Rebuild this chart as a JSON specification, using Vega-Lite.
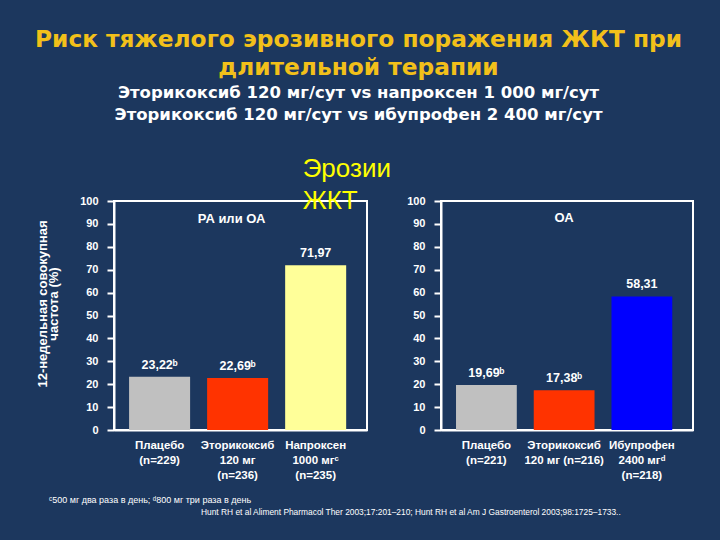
{
  "$schema": "https://vega.github.io/schema/vega-lite/v6.json",
  "background": "#1c375e",
  "padding": {"left": 34, "right": 27, "top": 28, "bottom": 28},
  "title": {
    "text": ["Риск тяжелого эрозивного поражения ЖКТ при", "длительной терапии"],
    "subtitle": ["Эторикоксиб 120 мг/сут vs напроксен 1 000 мг/сут", "Эторикоксиб 120 мг/сут vs ибупрофен 2 400 мг/сут"],
    "anchor": "middle",
    "dx": -6,
    "font": "DejaVu Sans",
    "fontSize": 23.3,
    "fontWeight": "bold",
    "color": "#f2c01a",
    "lineHeight": 27.5,
    "subtitleFont": "DejaVu Sans",
    "subtitleFontSize": 16.5,
    "subtitleFontWeight": "bold",
    "subtitleColor": "white",
    "subtitleLineHeight": 22.5,
    "subtitlePadding": 4.5,
    "offset": 30
  },
  "datasets": {
    "ra": [
      {"group": "Плацебо|(n=229)", "value": 23.22, "label": "23,22ᵇ"},
      {"group": "Эторикоксиб|120 мг|(n=236)", "value": 22.69, "label": "22,69ᵇ"},
      {"group": "Напроксен|1000 мгᶜ|(n=235)", "value": 71.97, "label": "71,97"}
    ],
    "oa": [
      {"group": "Плацебо|(n=221)", "value": 19.69, "label": "19,69ᵇ"},
      {"group": "Эторикоксиб|120 мг (n=216)", "value": 17.38, "label": "17,38ᵇ"},
      {"group": "Ибупрофен|2400 мгᵈ|(n=218)", "value": 58.31, "label": "58,31"}
    ]
  },
  "bounds": "flush",
  "spacing": 74,
  "resolve": {"scale": {"x": "independent", "y": "independent", "color": "independent"}},
  "hconcat": [
    {
      "width": 253,
      "height": 229,
      "layer": [
        {"data": {"name": "ra"},
         "mark": {"type": "bar"},
         "encoding": {
           "x": {"field": "group", "type": "nominal", "sort": null,
                 "scale": {"paddingInner": 0.218, "paddingOuter": 0.23, "align": 0.42},
                 "axis": {"labelExpr": "split(datum.label, '|')", "title": null}},
           "y": {"field": "value", "type": "quantitative",
                 "scale": {"domain": [0, 100], "nice": false},
                 "axis": {"values": [0, 10, 20, 30, 40, 50, 60, 70, 80, 90, 100], "tickCount": 20, "labelOverlap": false,
                          "title": ["12-недельная совокупная", "частота (%)"],
                          "titleX": -68, "titleY": 102.5, "titleAngle": -90, "titleBaseline": "alphabetic", "titleAlign": "center",
                          "titleFontSize": 13, "titleFontWeight": "bold", "titleLineHeight": 11, "titleColor": "white"}},
           "color": {"field": "group", "type": "nominal", "legend": null,
                     "scale": {"domain": ["Плацебо|(n=229)", "Эторикоксиб|120 мг|(n=236)", "Напроксен|1000 мгᶜ|(n=235)"],
                               "range": ["#c0c0c0", "#ff3300", "#ffff99"]}}}},
        {"data": {"name": "ra"},
         "mark": {"type": "text", "dy": -8, "baseline": "alphabetic", "color": "white", "fontWeight": "bold", "fontSize": 12.5},
         "encoding": {"x": {"field": "group", "type": "nominal", "sort": null},
                      "y": {"field": "value", "type": "quantitative", "axis": {"values": [0, 10, 20, 30, 40, 50, 60, 70, 80, 90, 100], "tickCount": 20, "labelOverlap": false}},
                      "text": {"field": "label"}}},
        {"data": {"values": [{}]},
         "mark": {"type": "text", "baseline": "alphabetic", "color": "white", "fontWeight": "bold", "fontSize": 13, "dx": -6},
         "encoding": {"x": {"datum": "Эторикоксиб|120 мг|(n=236)"}, "y": {"datum": 90.4, "axis": {"values": [0, 10, 20, 30, 40, 50, 60, 70, 80, 90, 100], "tickCount": 20, "labelOverlap": false}}, "text": {"value": "РА или ОА"}}},
        {"data": {"values": [{}]},
         "mark": {"type": "text", "baseline": "alphabetic", "align": "left", "color": "#ffff00", "fontSize": 26, "lineHeight": 32, "dx": -13},
         "encoding": {"x": {"datum": "Напроксен|1000 мгᶜ|(n=235)"}, "y": {"datum": 110.6, "axis": {"values": [0, 10, 20, 30, 40, 50, 60, 70, 80, 90, 100], "tickCount": 20, "labelOverlap": false}}, "text": {"value": ["Эрозии", "ЖКТ"]}}},
        {"data": {"values": [{}]},
         "mark": {"type": "text", "baseline": "alphabetic", "align": "left", "color": "white", "fontSize": 9, "dx": -110.6},
         "encoding": {"x": {"datum": "Плацебо|(n=229)"}, "y": {"datum": -32, "axis": {"values": [0, 10, 20, 30, 40, 50, 60, 70, 80, 90, 100], "tickCount": 20, "labelOverlap": false}}, "text": {"value": "ᶜ500 мг два раза в день; ᵈ800 мг три раза в день"}}},
        {"data": {"values": [{}]},
         "mark": {"type": "text", "baseline": "alphabetic", "align": "left", "color": "white", "fontSize": 8.4, "dx": 41.4},
         "encoding": {"x": {"datum": "Плацебо|(n=229)"}, "y": {"datum": -37.1, "axis": {"values": [0, 10, 20, 30, 40, 50, 60, 70, 80, 90, 100], "tickCount": 20, "labelOverlap": false}}, "text": {"value": "Hunt RH et al Aliment Pharmacol Ther 2003;17:201–210; Hunt RH et al Am J Gastroenterol 2003;98:1725–1733.."}}}
      ]
    },
    {
      "width": 252,
      "height": 229,
      "layer": [
        {"data": {"name": "oa"},
         "mark": {"type": "bar"},
         "encoding": {
           "x": {"field": "group", "type": "nominal", "sort": null,
                 "scale": {"paddingInner": 0.218, "paddingOuter": 0.23, "align": 0.42},
                 "axis": {"labelExpr": "split(datum.label, '|')", "title": null}},
           "y": {"field": "value", "type": "quantitative",
                 "scale": {"domain": [0, 100], "nice": false},
                 "axis": {"values": [0, 10, 20, 30, 40, 50, 60, 70, 80, 90, 100], "tickCount": 20, "labelOverlap": false, "title": null}},
           "color": {"field": "group", "type": "nominal", "legend": null,
                     "scale": {"domain": ["Плацебо|(n=221)", "Эторикоксиб|120 мг (n=216)", "Ибупрофен|2400 мгᵈ|(n=218)"],
                               "range": ["#c0c0c0", "#ff3300", "#0000ff"]}}}},
        {"data": {"name": "oa"},
         "mark": {"type": "text", "dy": -8, "baseline": "alphabetic", "color": "white", "fontWeight": "bold", "fontSize": 12.5},
         "encoding": {"x": {"field": "group", "type": "nominal", "sort": null},
                      "y": {"field": "value", "type": "quantitative", "axis": {"values": [0, 10, 20, 30, 40, 50, 60, 70, 80, 90, 100], "tickCount": 20, "labelOverlap": false, "title": null}},
                      "text": {"field": "label"}}},
        {"data": {"values": [{}]},
         "mark": {"type": "text", "baseline": "alphabetic", "color": "white", "fontWeight": "bold", "fontSize": 13},
         "encoding": {"x": {"datum": "Эторикоксиб|120 мг (n=216)"}, "y": {"datum": 90.8, "axis": {"values": [0, 10, 20, 30, 40, 50, 60, 70, 80, 90, 100], "tickCount": 20, "labelOverlap": false, "title": null}}, "text": {"value": "ОА"}}}
      ]
    }
  ],
  "config": {
    "font": "Liberation Sans",
    "view": {"stroke": "white", "strokeWidth": 2},
    "axis": {"domainColor": "white", "domainWidth": 2, "tickColor": "white", "tickWidth": 2,
             "labelColor": "white", "labelFont": "Liberation Sans", "labelFontWeight": "bold", "labelFontSize": 11,
             "grid": false, "titleColor": "white", "titleFont": "Liberation Sans", "labelOverlap": false},
    "axisX": {"ticks": false, "labelAngle": 0, "labelPadding": 9, "labelLineHeight": 15, "labelFontSize": 11.5, "domain": true},
    "axisY": {"tickSize": 7, "labelPadding": 9, "tickCount": 20}
  }
}
